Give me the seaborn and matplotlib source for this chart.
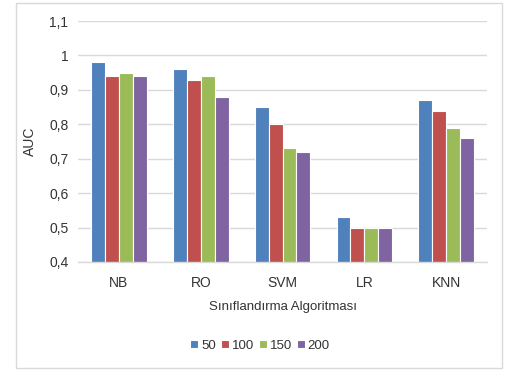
import matplotlib
matplotlib.use("Agg")
import matplotlib.pyplot as plt
from matplotlib.patches import Rectangle
import seaborn as sns
import pandas as pd

# AUC per classifier and sample size
algorithms = ["NB", "RO", "SVM", "LR", "KNN"]
sizes = ["50", "100", "150", "200"]
auc_50 = [0.98, 0.96, 0.85, 0.53, 0.87]
auc_100 = [0.94, 0.93, 0.80, 0.50, 0.84]
auc_150 = [0.95, 0.94, 0.73, 0.50, 0.79]
auc_200 = [0.94, 0.88, 0.72, 0.50, 0.76]
y_ticks = [0.4, 0.5, 0.6, 0.7, 0.8, 0.9, 1.0, 1.1]
y_tick_labels = ["0,4", "0,5", "0,6", "0,7", "0,8", "0,9", "1", "1,1"]

colors = ["#4F81BD", "#C0504D", "#9BBB59", "#8064A2"]
text_color = "#333333"

rows = []
for size, vals in zip(sizes, [auc_50, auc_100, auc_150, auc_200]):
    for alg, v in zip(algorithms, vals):
        rows.append({"Algoritma": alg, "N": size, "AUC": v})
df = pd.DataFrame(rows)

sns.set_theme(style="white")
plt.rcParams["font.family"] = ["Liberation Sans", "DejaVu Sans"]

fig = plt.figure(figsize=(5.07, 3.72), dpi=100)
ax = fig.add_axes([0.154, 0.2957, 0.8066, 0.6478])

sns.barplot(data=df, x="Algoritma", y="AUC", hue="N", order=algorithms,
            hue_order=sizes, palette=colors, width=0.68, ax=ax,
            edgecolor="white", linewidth=0.8, saturation=1, errorbar=None)

ax.set_ylim(0.4, 1.1)
ax.set_yticks(y_ticks)
ax.set_yticklabels(y_tick_labels, fontsize=10, color=text_color)
ax.tick_params(axis="x", labelsize=10, colors=text_color, length=0, pad=10)
ax.tick_params(axis="y", length=0, pad=7)
ax.yaxis.grid(True, color="#D9D9D9", linewidth=1)
ax.set_axisbelow(True)
for side in ["top", "right", "left"]:
    ax.spines[side].set_visible(False)
ax.spines["bottom"].set_color("#D9D9D9")
ax.spines["bottom"].set_linewidth(1)

ax.set_xlabel("Sınıflandırma Algoritması", fontsize=9.5, color=text_color, labelpad=8)
ax.set_ylabel("AUC", fontsize=10, color=text_color, labelpad=9)

handles, labels = ax.get_legend_handles_labels()
ax.legend_.remove()
fig.legend(handles, labels, loc="center", bbox_to_anchor=(0.513, 0.071), ncol=4,
           frameon=False, fontsize=9.5, handlelength=0.6, handleheight=0.6,
           handletextpad=0.2, columnspacing=0.4, labelcolor=text_color)

# outer chart frame
fig.patches.append(Rectangle((16 / 507, 1 - 368 / 372), 486 / 507, 365 / 372,
                             transform=fig.transFigure, fill=False,
                             edgecolor="#D9D9D9", linewidth=1))

fig.savefig("out.png", dpi=100)
